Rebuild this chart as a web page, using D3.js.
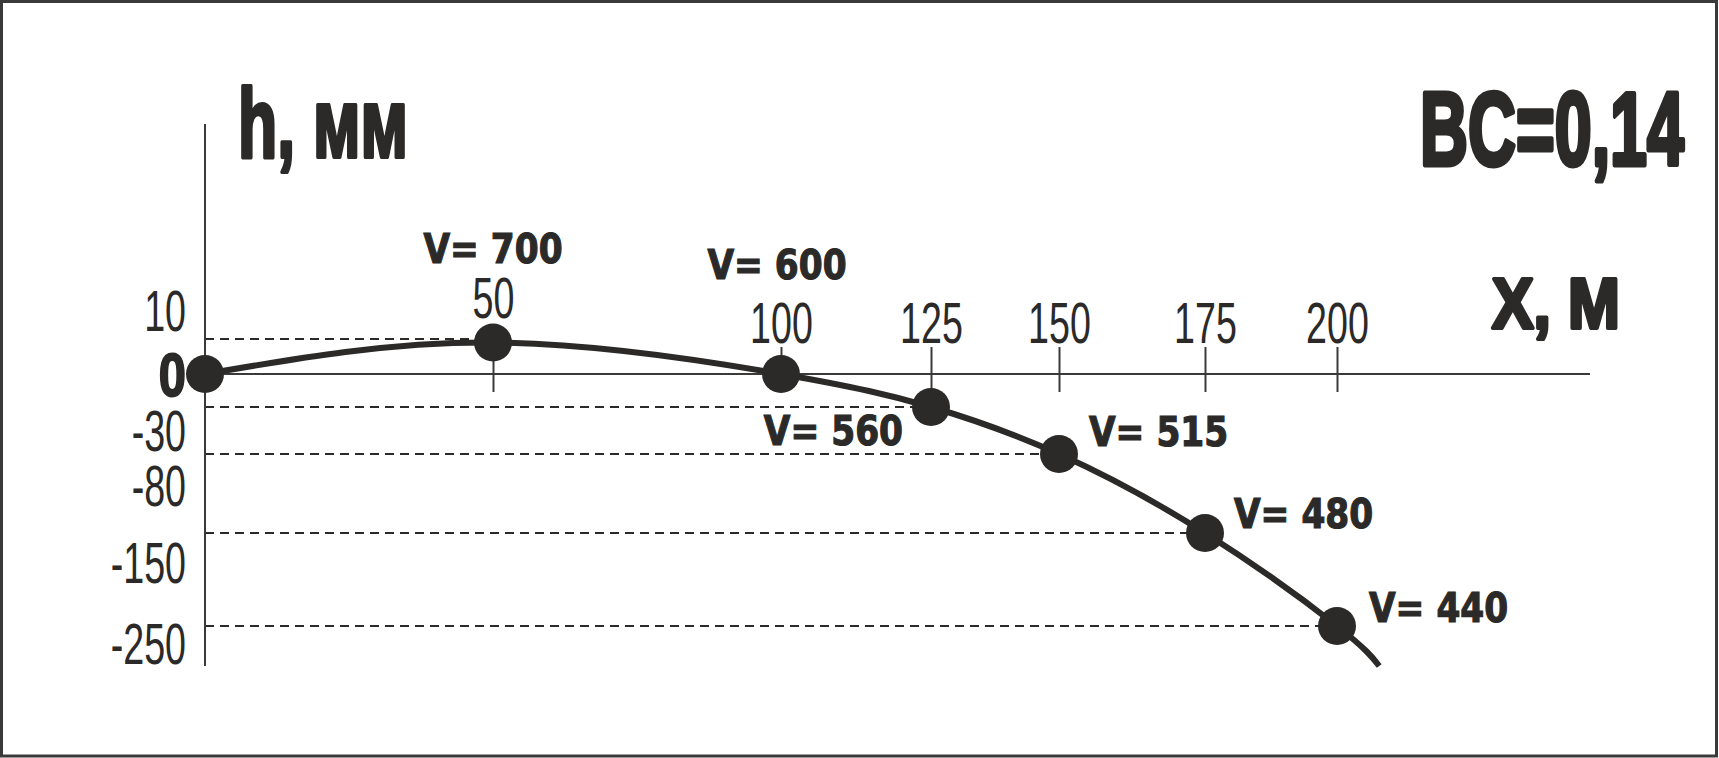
<!DOCTYPE html>
<html><head><meta charset="utf-8">
<script src="https://cdn.jsdelivr.net/npm/d3@7"></script>
<style>html,body{margin:0;padding:0;background:#fff;} svg{display:block;}</style>
</head><body>
<svg id="chart" width="1719" height="758"></svg>
<script>
// ---------- data ----------
const distances  = [0, 50, 100, 125, 150, 175, 200];      // X, м
const heights    = [0, 9, 0, -30, -80, -150, -250];       // h, мм
const velocities = [null, 700, 600, 560, 515, 480, 440];  // V, м/с
const tailDistance = 208;
const tailHeight = -293;
const xTickValues = [50, 100, 125, 150, 175, 200];
const yTickValues = [10, 0, -30, -80, -150, -250];
const guideHeights   = [10, -30, -80, -150, -250];
const guideDistances = [50, 125, 150, 175, 200];
const yAxisTitle = "h, мм";
const xAxisTitle = "X, М";
const bcLabel = "BC=0,14";

// ---------- layout ----------
const ink = "#2b2a29";
const svg = d3.select("#chart");

svg.append("rect").attr("x", 1.5).attr("y", 1.5).attr("width", 1715).attr("height", 754.5)
  .attr("fill", "#fff").attr("stroke", "#3a3a3a").attr("stroke-width", 3);

const x = d3.scaleLinear().domain(distances).range([205, 493, 781, 931, 1059, 1205, 1337]);
const y = d3.scaleLinear().domain(yTickValues).range([339, 374, 407, 454, 533, 626]);

// dashed guides
svg.append("g").selectAll("line").data(d3.zip(guideHeights, guideDistances)).join("line")
  .attr("x1", x(0)).attr("x2", d => x(d[1]))
  .attr("y1", d => y(d[0])).attr("y2", d => y(d[0]))
  .attr("stroke", ink).attr("stroke-width", 2).attr("stroke-dasharray", "9,6");

// axis lines
svg.append("line").attr("x1", x(0)).attr("x2", x(0)).attr("y1", 124).attr("y2", 666)
  .attr("stroke", "#3a3a3a").attr("stroke-width", 2);
svg.append("line").attr("x1", x(0)).attr("x2", 1590).attr("y1", y(0)).attr("y2", y(0))
  .attr("stroke", "#3a3a3a").attr("stroke-width", 2);

// x axis ticks
const gx = svg.append("g").attr("transform", `translate(0,${y(0)})`)
  .call(d3.axisTop(x).tickValues(xTickValues).tickSizeInner(27).tickSizeOuter(0).tickFormat(d => String(d)));
gx.select(".domain").remove();
gx.selectAll(".tick line").attr("y1", 18).attr("y2", -27).attr("stroke", "#3a3a3a").attr("stroke-width", 2);
gx.selectAll(".tick text")
  .attr("y", d => d === 50 ? -56 : -31.5).attr("dy", null)
  .attr("transform", "scale(0.66,1)").attr("fill", ink)
  .style("font", "57px 'Liberation Sans'");

// y axis labels
const yLabelBaseline = new Map([[10, -9], [0, 21], [-30, 43], [-80, 51], [-150, 49], [-250, 37]]);
const gy = svg.append("g").attr("transform", `translate(${x(0)},0)`)
  .call(d3.axisLeft(y).tickValues(yTickValues).tickSize(0).tickFormat(d => String(d)));
gy.select(".domain").remove();
gy.selectAll(".tick text")
  .attr("x", 0).attr("y", 0).attr("dy", null).attr("fill", ink)
  .attr("text-anchor", "end")
  .attr("transform", d => `translate(-19,${yLabelBaseline.get(d)}) scale(${d === 0 ? 0.8 : 0.66},1)`)
  .attr("stroke", d => d === 0 ? ink : null).attr("stroke-width", d => d === 0 ? 2 : null)
  .style("font", d => d === 0 ? "bold 61px 'Liberation Sans'" : "57px 'Liberation Sans'");

// trajectory
const pts = distances.map((d, i) => ({ d, h: heights[i], v: velocities[i] }));
const linePts = pts.concat([{ d: tailDistance, h: tailHeight }]);
svg.append("path").datum(linePts)
  .attr("d", d3.line().x(p => x(p.d)).y(p => y(p.h)).curve(d3.curveNatural))
  .attr("fill", "none").attr("stroke", ink).attr("stroke-width", 6);

svg.append("g").selectAll("circle").data(pts).join("circle")
  .attr("cx", p => x(p.d)).attr("cy", p => y(p.h)).attr("r", 19).attr("fill", ink);

// velocity labels
const vLabelLayout = [null,
  { dx: 0, dy: -80, anchor: "middle" },
  { dx: -4, dy: -95, anchor: "middle" },
  { dx: -28, dy: 38, anchor: "end" },
  { dx: 30, dy: -8, anchor: "start" },
  { dx: 29, dy: -5, anchor: "start" },
  { dx: 32, dy: -4, anchor: "start" }];
svg.append("g").selectAll("text").data(pts.filter(p => p.v !== null)).join("text")
  .text(p => "V= " + p.v)
  .attr("text-anchor", p => vLabelLayout[distances.indexOf(p.d)].anchor)
  .attr("transform", p => {
    const L = vLabelLayout[distances.indexOf(p.d)];
    return `translate(${x(p.d) + L.dx},${y(p.h) + L.dy}) scale(0.86,1)`;
  })
  .attr("fill", ink).attr("stroke", ink).attr("stroke-width", 1.2)
  .style("font", "bold 40px 'DejaVu Sans'");

// titles
function fitText(txt, left, baseline, width, font, sw) {
  const t = svg.append("text").text(txt).attr("fill", ink)
    .attr("stroke", ink).attr("stroke-width", sw).attr("stroke-linejoin", "round")
    .style("font", font);
  const len = t.node().getComputedTextLength();
  t.attr("transform", `translate(${left},${baseline}) scale(${width / len},1)`);
}
fitText(yAxisTitle, 238, 157, 170, "bold 99px 'Liberation Sans'", 4);
fitText(bcLabel, 1420, 165, 264, "bold 104px 'Liberation Sans'", 5);
fitText(xAxisTitle, 1492, 328, 128, "bold 71px 'Liberation Sans'", 4);
</script>
</body></html>
